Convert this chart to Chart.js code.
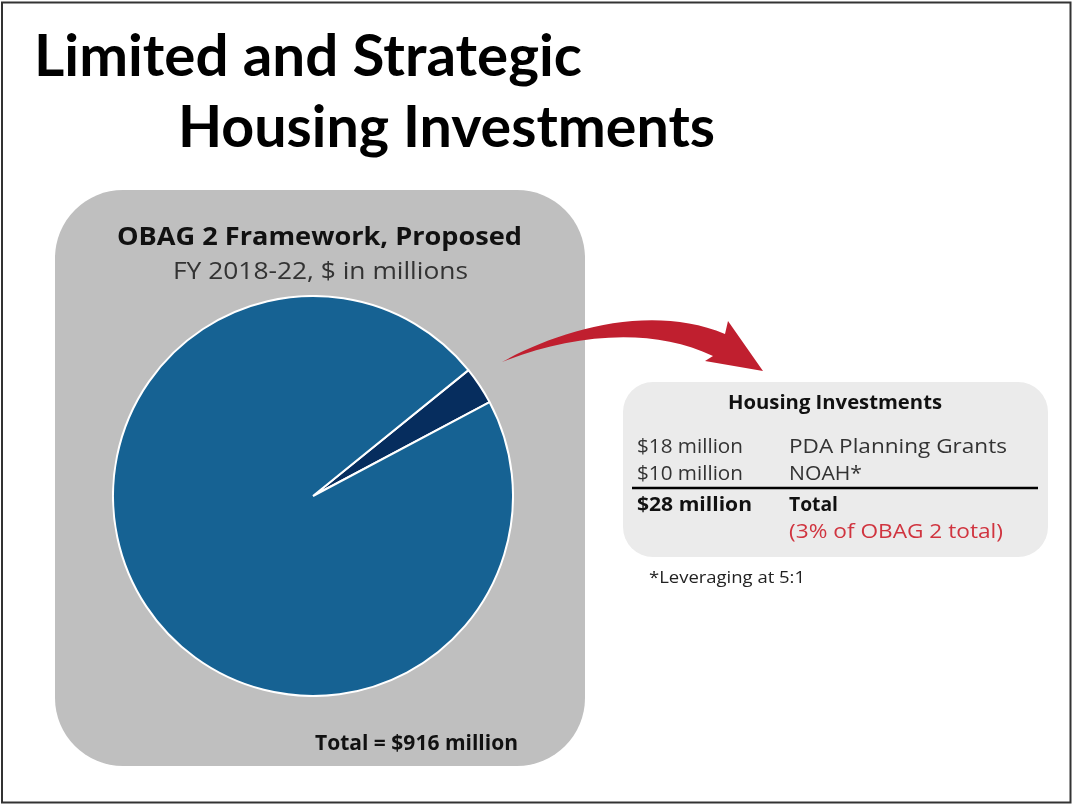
<!DOCTYPE html>
<html>
<head>
<meta charset="utf-8">
<script src="https://cdn.jsdelivr.net/npm/chart.js@4/dist/chart.umd.min.js"></script>
<style>
  html, body { margin: 0; padding: 0; background: #ffffff; }
  #stage { position: relative; width: 1073px; height: 805px; overflow: hidden; background: #fff; }
  .layer { position: absolute; left: 0; top: 0; }
  #pieWrap { position: absolute; left: 112px; top: 295px; width: 402px; height: 402px; }
</style>
</head>
<body>
<div id="stage">
  <svg class="layer" width="1073" height="805" xmlns="http://www.w3.org/2000/svg">
    <rect x="2" y="2.5" width="1068.5" height="800" fill="#fff" stroke="#333" stroke-width="2"/>
    <rect x="55" y="190" width="530" height="576" rx="68" ry="68" fill="#bfbfbf"/>
    <rect x="623" y="382" width="425" height="175" rx="30" ry="30" fill="#ebebeb"/>
  </svg>
  <div id="pieWrap"><canvas id="pie" width="402" height="402"></canvas></div>
  <svg id="texts" class="layer" width="1073" height="805" xmlns="http://www.w3.org/2000/svg">
    <path d="M 502 362 C 560 330 650 303 725 334 L 728 321 L 763 371 L 705 361 L 713 356 C 650 326 570 335 502 362 Z" fill="#c01f2f"/>
    <g id="textGroup"></g>
    <line x1="632" y1="488" x2="1038" y2="488" stroke="#000" stroke-width="2.5"/>
  </svg>
</div>
<script>
// ---- Data ----
const categories = ['Housing Investments', 'Other OBAG 2 Programs'];
const values = [28, 888];            // $ millions, total 916
const sliceColors = ['#062d5e', '#166293'];

const housingAmounts = ['$18 million', '$10 million'];
const housingItems = ['PDA Planning Grants', 'NOAH*'];
const housingTotal = '$28 million';

// ---- Texts (real text, SVG) ----
const SVGNS = 'http://www.w3.org/2000/svg';
const g = document.getElementById('textGroup');
function txt(s, x, y, size, opts) {
  opts = opts || {};
  const t = document.createElementNS(SVGNS, 'text');
  t.setAttribute('x', x);
  t.setAttribute('y', y);
  t.setAttribute('font-family', opts.family || 'Open Sans, sans-serif');
  t.setAttribute('font-size', size);
  t.setAttribute('font-weight', opts.bold ? 'bold' : 'normal');
  t.setAttribute('fill', opts.color || '#000');
  if (opts.w) {
    t.setAttribute('textLength', opts.w);
    t.setAttribute('lengthAdjust', 'spacingAndGlyphs');
  }
  t.textContent = s;
  g.appendChild(t);
}
// Title
txt('Limited and Strategic', 34, 76, 58, {bold: true, family: 'Lato, sans-serif', w: 548});
txt('Housing Investments', 178, 147, 58, {bold: true, family: 'Lato, sans-serif', w: 537});
// Pie box header
txt('OBAG 2 Framework, Proposed', 117, 245, 25, {bold: true, color: '#111', w: 405});
txt('FY 2018-22, $ in millions', 173, 279, 24, {color: '#333', w: 295});
txt('Total = $916 million', 315, 750, 22, {bold: true, color: '#111', w: 203});
// Housing panel
txt('Housing Investments', 728, 409, 19.5, {bold: true, color: '#111', w: 214});
txt(housingAmounts[0], 637, 453, 20, {color: '#333', w: 106});
txt(housingItems[0], 789, 453, 20, {color: '#333', w: 218});
txt(housingAmounts[1], 637, 480, 20, {color: '#333', w: 106});
txt(housingItems[1], 789, 480, 20, {color: '#333', w: 73});
txt(housingTotal, 637, 511, 20, {bold: true, color: '#111', w: 115});
txt('Total', 789, 511, 20, {bold: true, color: '#111', w: 49});
txt('(3% of OBAG 2 total)', 789, 538, 20, {color: '#d0343f', w: 214});
txt('*Leveraging at 5:1', 649, 583, 16, {color: '#222', w: 156});

// ---- Pie chart ----
new Chart(document.getElementById('pie'), {
  type: 'pie',
  data: {
    labels: categories,
    datasets: [{
      data: values,
      backgroundColor: sliceColors,
      borderColor: '#ffffff',
      borderWidth: 2
    }]
  },
  options: {
    responsive: false,
    animation: false,
    rotation: 51,
    layout: { padding: 0 },
    plugins: { legend: { display: false }, tooltip: { enabled: false } }
  }
});
</script>
</body>
</html>
